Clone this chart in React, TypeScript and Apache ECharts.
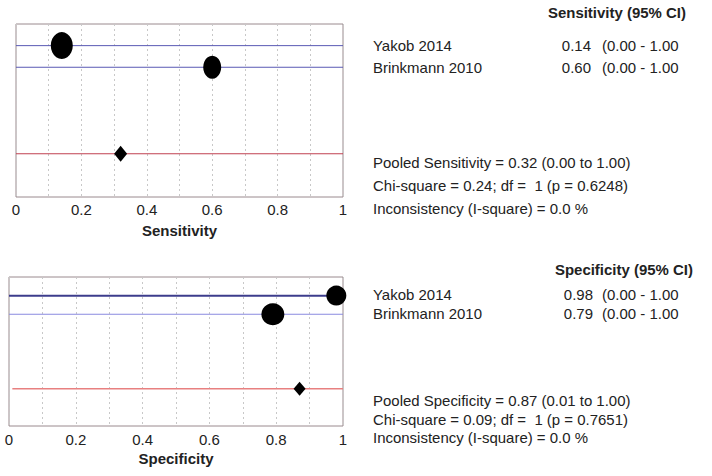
import React, { useEffect, useRef } from "react";
import * as echarts from "echarts";

const studies = ["Yakob 2014", "Brinkmann 2010"];
const rows = [1, 2];
const pooledRow = 6;

const sensValues = [0.14, 0.6];
const sensLow = [0.0, 0.0];
const sensHigh = [1.0, 1.0];
const sensPooled = 0.32;
const sensPooledLow = 0.0;
const sensPooledHigh = 1.0;

const specValues = [0.98, 0.79];
const specLow = [0.0, 0.0];
const specHigh = [1.0, 1.0];
const specPooled = 0.87;
const specPooledLow = 0.01;
const specPooledHigh = 1.0;

const sensStats = [
  "Pooled Sensitivity = 0.32 (0.00 to 1.00)",
  "Chi-square = 0.24; df =  1 (p = 0.6248)",
  "Inconsistency (I-square) = 0.0 %",
];
const specStats = [
  "Pooled Specificity = 0.87 (0.01 to 1.00)",
  "Chi-square = 0.09; df =  1 (p = 0.7651)",
  "Inconsistency (I-square) = 0.0 %",
];

const FONT = "Liberation Sans, Arial, sans-serif";

const tickFmt = (v: number) => {
  const k = Math.round(v * 10);
  if (k % 2 !== 0) return "";
  if (k === 0) return "0";
  if (k === 10) return "1";
  return (k / 10).toFixed(1);
};

function App() {
  const ref = useRef<HTMLDivElement>(null);
  useEffect(() => {
    if (!ref.current) return;
    const chart = echarts.init(ref.current, null, { renderer: "svg" });

    const xAxisBase = (gridIndex: number, name: string, nameGap: number, margin: number) => ({
      type: "value",
      gridIndex,
      min: 0,
      max: 1,
      interval: 0.1,
      name,
      nameLocation: "middle",
      nameGap,
      nameTextStyle: { fontFamily: FONT, fontSize: 15, fontWeight: "bold", color: "#222" },
      axisLine: { show: false },
      axisTick: { show: false },
      axisLabel: {
        formatter: tickFmt,
        fontFamily: FONT,
        fontSize: 15,
        color: "#222",
        margin,
        showMinLabel: true,
        showMaxLabel: true,
      },
      splitLine: { show: true, lineStyle: { color: "#c8c8c8", type: [2, 3], width: 1 } },
    });
    const yAxisBase = (gridIndex: number) => ({
      type: "value",
      gridIndex,
      min: 0,
      max: 8,
      inverse: true,
      show: false,
      splitLine: { show: false },
    });

    const ciSeries = (
      idx: number,
      low: number,
      high: number,
      row: number,
      color: string,
      width: number
    ) => ({
      type: "line",
      xAxisIndex: idx,
      yAxisIndex: idx,
      data: [
        [low, row],
        [high, row],
      ],
      symbol: "none",
      lineStyle: { color, width },
      silent: true,
      z: 2,
    });

    const sensSizes = [
      [22, 27],
      [18, 23],
    ];
    const specSizes = [
      [20, 20],
      [23, 22],
    ];

    const series: any[] = [];
    studies.forEach((_, i) => {
      series.push(ciSeries(0, sensLow[i], sensHigh[i], rows[i], "#5a5ab4", 1));
      series.push(
        ciSeries(1, specLow[i], specHigh[i], rows[i], i === 0 ? "#3c3c8c" : "#8a8ae0", i === 0 ? 2 : 1)
      );
    });
    series.push(ciSeries(0, sensPooledLow, sensPooledHigh, pooledRow, "#c04050", 1));
    series.push(ciSeries(1, specPooledLow, specPooledHigh, pooledRow, "#e88080", 1.5));

    const dot = { color: "#000", opacity: 1 };
    series.push({
      type: "scatter",
      xAxisIndex: 0,
      yAxisIndex: 0,
      data: sensValues.map((v, i) => ({ value: [v, rows[i]], symbolSize: sensSizes[i] })),
      symbol: "circle",
      itemStyle: dot,
      z: 5,
    });
    series.push({
      type: "scatter",
      xAxisIndex: 1,
      yAxisIndex: 1,
      data: specValues.map((v, i) => ({ value: [v, rows[i]], symbolSize: specSizes[i] })),
      symbol: "circle",
      itemStyle: dot,
      z: 5,
    });
    series.push({
      type: "scatter",
      xAxisIndex: 0,
      yAxisIndex: 0,
      data: [[sensPooled, pooledRow]],
      symbol: "diamond",
      symbolSize: [13, 16],
      itemStyle: dot,
      z: 5,
    });
    series.push({
      type: "scatter",
      xAxisIndex: 1,
      yAxisIndex: 1,
      data: [[specPooled, pooledRow]],
      symbol: "diamond",
      symbolSize: [12, 14],
      itemStyle: dot,
      z: 5,
    });

    const txt = (
      x: number,
      y: number,
      text: string,
      align: string = "left",
      bold = false
    ) => ({
      type: "text",
      x,
      y,
      scaleX: 1.07,
      style: {
        text,
        x: 0,
        y: 0,
        fill: "#222",
        font: `${bold ? "bold " : ""}14px ${FONT}`,
        textAlign: align,
        textVerticalAlign: "middle",
      },
    });

    const graphics: any[] = [];
    graphics.push(txt(686, 13, "Sensitivity (95% CI)", "right", true));
    graphics.push(txt(693, 270, "Specificity (95% CI)", "right", true));
    const sensY = [46, 68];
    const specY = [295, 314];
    studies.forEach((s, i) => {
      graphics.push(txt(373, sensY[i], s));
      graphics.push(txt(591, sensY[i], sensValues[i].toFixed(2), "right"));
      graphics.push(
        txt(602, sensY[i], `(${sensLow[i].toFixed(2)} - ${sensHigh[i].toFixed(2)}`)
      );
      graphics.push(txt(373, specY[i], s));
      graphics.push(txt(593, specY[i], specValues[i].toFixed(2), "right"));
      graphics.push(
        txt(602, specY[i], `(${specLow[i].toFixed(2)} - ${specHigh[i].toFixed(2)}`)
      );
    });
    const sensStatY = [163, 186, 209];
    const specStatY = [401, 420, 438];
    sensStats.forEach((t, i) => graphics.push(txt(373, sensStatY[i], t)));
    specStats.forEach((t, i) => graphics.push(txt(373, specStatY[i], t)));

    chart.setOption({
      animation: false,
      backgroundColor: "#fff",
      grid: [
        {
          left: 16,
          top: 24,
          width: 327,
          height: 173,
          show: true,
          borderColor: "#9a8a8e",
          borderWidth: 1,
          backgroundColor: "transparent",
        },
        {
          left: 9,
          top: 277,
          width: 334,
          height: 149,
          show: true,
          borderColor: "#9a8a8e",
          borderWidth: 1,
          backgroundColor: "transparent",
        },
      ],
      xAxis: [xAxisBase(0, "Sensitivity", 26, 5), xAxisBase(1, "Specificity", 25, 6)],
      yAxis: [yAxisBase(0), yAxisBase(1)],
      series,
      graphic: graphics,
    });

    return () => chart.dispose();
  }, []);

  return (
    <div
      ref={ref}
      style={{ position: "absolute", left: 0, top: 0, width: 712, height: 476 }}
    />
  );
}

export default App;
